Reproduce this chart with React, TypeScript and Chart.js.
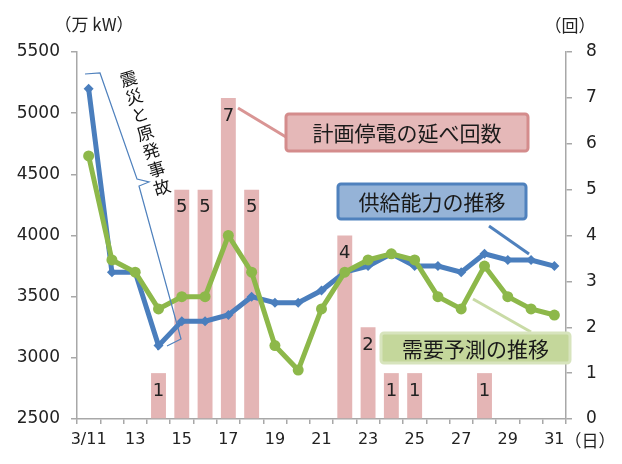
import React, { useEffect, useRef } from "react";
import { Chart, registerables } from "chart.js";

Chart.register(...registerables);

// ---- data ----
const days = ["3/11", "12", "13", "14", "15", "16", "17", "18", "19", "20", "21", "22", "23", "24", "25", "26", "27", "28", "29", "30", "31"];
const supply = [5200, 3700, 3700, 3100, 3300, 3300, 3350, 3500, 3450, 3450, 3550, 3700, 3750, 3850, 3750, 3750, 3700, 3850, 3800, 3800, 3750];
const demand = [4650, 3800, 3700, 3400, 3500, 3500, 4000, 3700, 3100, 2900, 3400, 3700, 3800, 3850, 3800, 3500, 3400, 3750, 3500, 3400, 3350];
const outages = [null, null, null, 1, 5, 5, 7, 5, null, null, null, 4, 2, 1, 1, null, null, 1, null, null, null];
const leftTicks = { min: 2500, max: 5500, step: 500 };
const rightTicks = { min: 0, max: 8, step: 1 };

const JP = '"Noto Sans CJK JP", "Noto Sans", sans-serif';
const NUM = '"DejaVu Sans", sans-serif';
const AXIS = "#a8a8a8";

const overlay = {
  id: "overlay",
  afterDatasetsDraw(chart: any) {
    const ctx = chart.ctx;
    const meta = chart.getDatasetMeta(0);
    ctx.save();
    ctx.font = `18px ${NUM}`;
    ctx.fillStyle = "#222";
    ctx.textAlign = "center";
    ctx.textBaseline = "middle";
    meta.data.forEach((el: any, i: number) => {
      const v = outages[i];
      if (v == null) return;
      ctx.fillText(String(v), el.x, el.y + 18);
    });
    ctx.restore();
  },
  afterDraw(chart: any) {
    const ctx = chart.ctx;
    ctx.save();
    // axis titles
    ctx.fillStyle = "#222";
    ctx.font = `17px ${JP}`;
    ctx.textAlign = "center";
    ctx.textBaseline = "middle";
    ctx.fillText("（万 kW）", 94, 25);
    ctx.fillText("（回）", 570, 26);
    ctx.fillText("（日）", 590, 441);

    // connectors
    const line = (x1: number, y1: number, x2: number, y2: number, c: string, w: number) => {
      ctx.beginPath();
      ctx.moveTo(x1, y1);
      ctx.lineTo(x2, y2);
      ctx.strokeStyle = c;
      ctx.lineWidth = w;
      ctx.stroke();
    };
    line(238, 108, 286, 137, "#d99594", 3);
    line(489, 226, 529, 254, "#4f81bd", 3);
    line(473, 299, 531, 332, "#c9dba6", 3);

    // boxes
    const box = (x: number, y: number, w: number, h: number, fill: string, stroke: string, text: string) => {
      ctx.beginPath();
      (ctx as any).roundRect(x, y, w, h, 3);
      ctx.fillStyle = fill;
      ctx.fill();
      ctx.lineWidth = 3;
      ctx.strokeStyle = stroke;
      ctx.stroke();
      ctx.fillStyle = "#1a1a1a";
      ctx.font = `21px ${JP}`;
      ctx.textAlign = "center";
      ctx.textBaseline = "middle";
      ctx.fillText(text, x + w / 2, y + h / 2 + 1);
    };
    box(286, 114, 242, 37, "#e5b8b8", "#d48c8c", "計画停電の延べ回数");
    box(338, 184, 188, 35, "#95b3d7", "#4f81bd", "供給能力の推移");
    box(381, 333, 189, 30, "#c4d79b", "#d7e4bd", "需要予測の推移");

    // brace
    ctx.beginPath();
    ctx.moveTo(85, 74);
    ctx.lineTo(100, 73);
    ctx.lineTo(137, 179);
    ctx.lineTo(149, 182);
    ctx.lineTo(139, 186);
    ctx.lineTo(181, 339);
    ctx.lineTo(167, 346);
    ctx.strokeStyle = "#4f81bd";
    ctx.lineWidth = 1.2;
    ctx.stroke();

    // slanted vertical text
    const chars = Array.from("震災と原発事故");
    ctx.font = `17px ${JP}`;
    ctx.fillStyle = "#111";
    chars.forEach((ch, i) => {
      ctx.save();
      ctx.translate(128.5 + i * 5.6, 78.5 + i * 18.1);
      ctx.rotate((-17 * Math.PI) / 180);
      ctx.fillText(ch, 0, 0);
      ctx.restore();
    });
    ctx.restore();
  },
};

export default function App() {
  const ref = useRef<HTMLCanvasElement | null>(null);
  useEffect(() => {
    if (!ref.current) return;
    const chart = new Chart(ref.current, {
      type: "bar",
      data: {
        labels: days,
        datasets: [
          {
            type: "bar",
            label: "計画停電の延べ回数",
            data: outages as any,
            yAxisID: "y2",
            backgroundColor: "#e4b5b5",
            categoryPercentage: 1,
            barPercentage: 0.64,
            order: 3,
          },
          {
            type: "line",
            label: "供給能力の推移",
            data: supply,
            yAxisID: "y",
            borderColor: "#4a7ebd",
            backgroundColor: "#4a7ebd",
            borderWidth: 5,
            pointStyle: "rectRot",
            pointRadius: 5,
            pointBorderWidth: 0,
            tension: 0,
            order: 2,
          },
          {
            type: "line",
            label: "需要予測の推移",
            data: demand,
            yAxisID: "y",
            borderColor: "#8db84a",
            backgroundColor: "#8db84a",
            borderWidth: 5,
            pointStyle: "circle",
            pointRadius: 5.5,
            pointBorderWidth: 0,
            tension: 0,
            order: 1,
          },
        ],
      },
      options: {
        responsive: false,
        animation: false,
        layout: { padding: { top: 52, left: 0, right: 0, bottom: 0 } },
        plugins: { legend: { display: false }, tooltip: { enabled: false } },
        scales: {
          x: {
            offset: true,
            grid: { offset: true, drawOnChartArea: false, drawTicks: true, tickLength: 5, color: AXIS, lineWidth: 1.5 },
            border: { display: true, color: AXIS, width: 1.5 },
            ticks: {
              autoSkip: false,
              maxRotation: 0,
              minRotation: 0,
              padding: 6,
              color: "#222",
              font: { family: NUM, size: 16 },
              callback: (_v: any, i: number) => (i % 2 === 0 ? days[i] : ""),
            },
            afterFit: (s: any) => {
              s.height = 45;
            },
          },
          y: {
            position: "left",
            min: leftTicks.min,
            max: leftTicks.max,
            grid: { drawOnChartArea: false, drawTicks: true, tickLength: 6, color: AXIS, lineWidth: 1.5 },
            border: { display: true, color: AXIS, width: 1.5 },
            ticks: {
              stepSize: leftTicks.step,
              padding: 11,
              color: "#222",
              font: { family: NUM, size: 17 },
              callback: (v: any) => String(v),
            },
            afterFit: (s: any) => {
              s.width = 77;
            },
          },
          y2: {
            position: "right",
            min: rightTicks.min,
            max: rightTicks.max,
            grid: { drawOnChartArea: false, drawTicks: true, tickLength: 6, color: AXIS, lineWidth: 1.5 },
            border: { display: true, color: AXIS, width: 1.5 },
            ticks: {
              stepSize: rightTicks.step,
              padding: 14,
              color: "#222",
              font: { family: NUM, size: 17 },
              callback: (v: any) => String(v),
            },
            afterFit: (s: any) => {
              s.width = 56;
            },
          },
        },
      },
      plugins: [overlay],
    });
    return () => chart.destroy();
  }, []);
  return (
    <div style={{ position: "fixed", left: 0, top: 0, width: 622, height: 464, background: "#fff" }}>
      <canvas ref={ref} width={622} height={464} style={{ display: "block" }} />
    </div>
  );
}
